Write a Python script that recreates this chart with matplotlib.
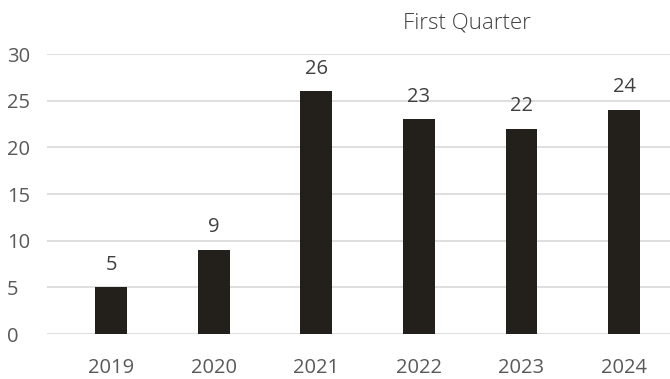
import matplotlib
matplotlib.use("Agg")
import matplotlib.pyplot as plt

years = ["2019", "2020", "2021", "2022", "2023", "2024"]
values = [5, 9, 26, 23, 22, 24]
yticks = [0, 5, 10, 15, 20, 25, 30]

plt.rcParams['font.family'] = ['Open Sans', 'DejaVu Sans']

fig = plt.figure(figsize=(6.70, 3.79), dpi=100)
ax = fig.add_axes([47/670, 1 - 334/379, (670-47)/670, (334-54)/379])

x = list(range(len(years)))
bars = ax.bar(x, values, width=0.31, color="#231f1a", zorder=3)
for xi, v in zip(x, values):
    ax.annotate(str(v), (xi, v), xytext=(0, 9), textcoords="offset points",
                ha="center", va="bottom", fontsize=14.5, color="#404040")

ax.set_xlim(-0.624, 5.448)
ax.set_ylim(0, 30)
ax.set_yticks(yticks)
ax.set_xticks(x)
ax.set_xticklabels(years)
ax.yaxis.grid(True, color="#d9d9d9", linewidth=1.2, zorder=0)
for s in ax.spines.values():
    s.set_visible(False)
ax.tick_params(axis="both", length=0, labelsize=14.5, labelcolor="#595959")
ax.tick_params(axis="x", pad=17)
ax.tick_params(axis="y", pad=29)
for lbl in ax.get_yticklabels():
    lbl.set_horizontalalignment("left")

fig.text(467/670, 1 - 23/379, "First Quarter", ha="center", va="center",
         fontsize=16, fontweight="light", color="#404040")

fig.savefig("out.png", dpi=100)
